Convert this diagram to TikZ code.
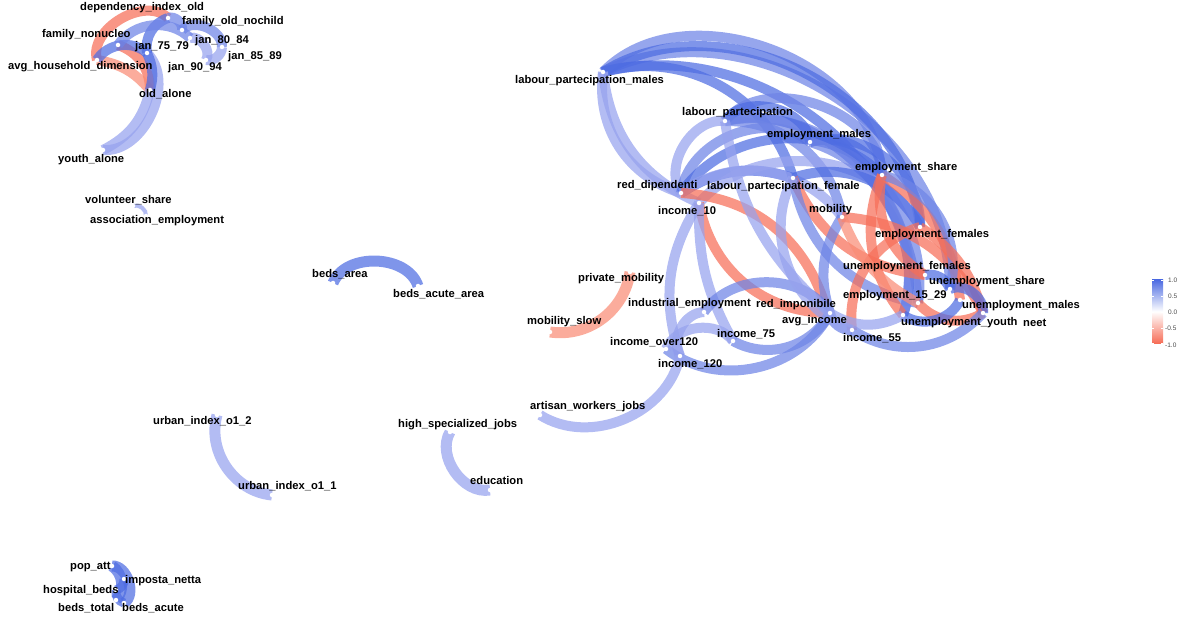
\documentclass[tikz,border=0pt]{standalone}
\usepackage{fontspec}
\setmainfont{Liberation Sans}
\definecolor{cstrong}{RGB}{78,108,226}
\definecolor{cmid}{RGB}{110,132,230}
\definecolor{clight}{RGB}{150,162,238}
\definecolor{cred}{RGB}{246,110,88}
\definecolor{cred2}{RGB}{250,140,118}
\tikzset{
  e/.style={line width=10pt, opacity=0.72},
  es/.style={e, draw=cstrong},
  em/.style={e, draw=cmid},
  el/.style={e, draw=clight},
  er/.style={e, draw=cred},
  er2/.style={e, draw=cred2},
  dot/.style={circle, fill=white, inner sep=0pt, minimum size=4.5pt},
  lab/.style={anchor=west, inner sep=0pt, font=\fontsize{11.2}{13}\selectfont\bfseries, text=black},
  tick/.style={anchor=west, inner sep=0pt, font=\fontsize{6.5}{7}\selectfont, text=black!70}
}
\begin{document}
\begin{tikzpicture}[x=1pt,y=-1pt]
\useasboundingbox (0,0) rectangle (1191,620);
% ---------- coordinates of nodes
\coordinate (dio) at (168,18);
\coordinate (fon) at (182,30);
\coordinate (fnu) at (118,45);
\coordinate (j75) at (147,53);
\coordinate (j80) at (190,38);
\coordinate (j85) at (222,47);
\coordinate (j90) at (206,60);
\coordinate (ahd) at (97,60);
\coordinate (old) at (150,90);
\coordinate (ya) at (103,150);
\coordinate (vs) at (133,206);
\coordinate (ae) at (146,216);
\coordinate (bar) at (333,283);
\coordinate (baa) at (418,286);
\coordinate (pm) at (630,272);
\coordinate (ms) at (550,332);
\coordinate (u2) at (217,415);
\coordinate (u1) at (272,495);
\coordinate (hs) at (450,432);
\coordinate (edu) at (490,490);
\coordinate (pop) at (112,566);
\coordinate (imp) at (124,579);
\coordinate (hb) at (116,590);
\coordinate (bt) at (116,600);
\coordinate (bac) at (124,603);
\coordinate (lpm) at (603,72);
\coordinate (lp) at (725,121);
\coordinate (emm) at (810,142);
\coordinate (emsh) at (882,175);
\coordinate (rdip) at (681,193);
\coordinate (inc10) at (699,203);
\coordinate (lpf) at (793,178);
\coordinate (mob) at (842,217);
\coordinate (emf) at (920,227);
\coordinate (unf) at (925,275);
\coordinate (unsh) at (950,289);
\coordinate (e1529) at (918,303);
\coordinate (unm) at (983,313);
\coordinate (neet) at (960,300);
\coordinate (uny) at (903,315);
\coordinate (avg) at (830,313);
\coordinate (rimp) at (826,308);
\coordinate (inc55) at (852,330);
\coordinate (ind) at (704,312);
\coordinate (inc75) at (733,341);
\coordinate (io120) at (666,349);
\coordinate (i120) at (680,356);
\coordinate (art) at (540,415);

% ---------- edges: top-left cluster
\draw[er] (dio) to[bend right=75] (ahd);
\draw[er] (fnu) to[bend left=35] (old);
\draw[er2] (ahd) to[bend left=20] (old);
\draw[el] (j75) to[bend left=70] (ya);
\draw[el] (old) to[bend left=25] (ya);
\draw[em] (dio) to[bend left=60] (fon);
\draw[em] (fon) to[bend left=70] (j85);
\draw[el] (j80) to[bend left=70] (j90);
\draw[es] (dio) to[bend right=40] (j75);
\draw[es] (ahd) to[bend left=50] (j75);
\draw[em] (fnu) to[bend left=50] (j80);
\draw[es] (j75) to[bend left=20] (old);
\draw[el] (j85) to[bend left=50] (j90);

% ---------- small components
\draw[el, line width=4pt] (vs) to[bend left=60] (ae);
\draw[es, line width=11pt] (bar) to[bend left=70] (baa);
\draw[er2, line width=11pt] (pm) to[bend left=45] (ms);
\draw[el, line width=11pt] (u2) to[bend right=50] (u1);
\draw[el, line width=11pt] (hs) to[bend right=65] (edu);
\draw[es, line width=11pt] (pop) to[bend left=50] (bt);
\draw[es, line width=11pt] (pop) to[bend left=75] (bac);
\draw[es, line width=9pt] (imp) to[bend left=40] (hb);
\draw[es, line width=9pt] (hb) to[bend right=40] (bac);

% ---------- main cluster
\draw[em] (lpm) to[bend left=58] (unsh);
\draw[es] (lpm) to[bend left=50] (e1529);
\draw[em] (lpm) to[bend left=66] (emsh);
\draw[es] (lpm) to[bend left=58] (emf);
\draw[es] (lpm) to[bend left=45] (lpf);
\draw[el] (lpm) to[bend right=40] (rdip);
\draw[el] (lpm) to[bend right=30] (inc10);
\draw[em] (lp) to[bend left=70] (emsh);
\draw[es] (lp) to[bend left=62] (uny);
\draw[em] (lp) to[bend left=55] (e1529);
\draw[es] (lp) to[bend left=70] (emm);
\draw[em] (lp) to[bend left=40] (mob);
\draw[el] (rdip) to[bend left=65] (lp);
\draw[em] (rdip) to[bend left=60] (emm);
\draw[es] (rdip) to[bend left=50] (emsh);
\draw[es] (rdip) to[bend left=25] (lpf);
\draw[el] (inc10) to[bend left=55] (emf);
\draw[el] (rdip) to[bend left=45] (mob);
\draw[er] (inc10) to[bend right=40] (avg);
\draw[er] (rdip) to[bend left=35] (rimp);
\draw[el] (inc10) to[bend right=15] (inc75);
\draw[el] (inc10) to[bend right=25] (i120);
\draw[em] (avg) to[bend right=55] (ind);
\draw[em] (avg) to[bend left=50] (io120);
\draw[em] (avg) to[bend left=45] (inc75);
\draw[el] (i120) to[bend left=60] (ind);
\draw[el] (art) to[bend right=55] (i120);
\draw[el] (io120) to[bend left=60] (inc75);
\draw[es] (emm) to[bend left=40] (emsh);
\draw[es] (emm) to[bend left=55] (emf);
\draw[em] (emm) to[bend left=45] (uny);
\draw[es] (lpf) to[bend left=40] (emf);
\draw[er] (lpf) to[bend right=30] (unf);
\draw[em] (lpf) to[bend right=35] (e1529);
\draw[em] (mob) to[bend right=25] (avg);
\draw[er] (mob) to[bend left=30] (unm);
\draw[er] (emsh) to[bend right=35] (unf);
\draw[er] (emsh) to[bend left=25] (neet);
\draw[em] (emsh) to[bend left=45] (unsh);
\draw[er] (emf) to[bend left=20] (unm);
\draw[er] (emf) to[bend right=40] (inc55);
\draw[es] (unf) to[bend left=40] (unsh);
\draw[es] (unsh) to[bend left=60] (unm);
\draw[er] (e1529) to[bend right=40] (unm);
\draw[er] (uny) to[bend left=30] (emsh);
\draw[es] (uny) to[bend right=50] (neet);
\draw[em] (avg) to[bend right=40] (inc55);
\draw[em] (inc55) to[bend right=40] (unm);
\draw[el] (avg) to[bend right=30] (uny);
\draw[er2] (mob) to[bend right=20] (e1529);
\draw[el] (lpf) to[bend right=50] (inc55);
\draw[el] (lp) to[bend right=20] (avg);

% ---------- dots
\foreach \p in {dio,fon,fnu,j75,j80,j85,j90,ahd,old,ya,vs,ae,bar,baa,pm,ms,u2,u1,hs,edu,pop,imp,hb,bt,bac,lpm,lp,emm,emsh,rdip,inc10,lpf,mob,emf,unf,unsh,e1529,unm,neet,uny,avg,inc55,ind,inc75,io120,i120,art}
  \node[dot] at (\p) {};

% ---------- labels
\node[lab] (l1) at (80,8) {dependency\_index\_old};
\node[lab] (l2) at (182,22) {family\_old\_nochild};
\node[lab] (l3) at (42,35) {family\_nonucleo};
\node[lab] (l4) at (135,47) {jan\_75\_79};
\node[lab] (l5) at (195,41) {jan\_80\_84};
\node[lab] (l6) at (228,57) {jan\_85\_89};
\node[lab] (l7) at (8,67) {avg\_household\_dimension};
\node[lab] (l8) at (168,68) {jan\_90\_94};
\node[lab] (l9) at (139,94) {old\_alone};
\node[lab] (l10) at (58,160) {youth\_alone};
\node[lab] (l11) at (85,200) {volunteer\_share};
\node[lab] (l12) at (90,221) {association\_employment};
\node[lab] (l13) at (312,274) {beds\_area};
\node[lab] (l14) at (393,294) {beds\_acute\_area};
\node[lab] (l15) at (515,81) {labour\_partecipation\_males};
\node[lab] (l16) at (682,113) {labour\_partecipation};
\node[lab] (l17) at (767,135) {employment\_males};
\node[lab] (l18) at (855,168) {employment\_share};
\node[lab] (l19) at (617,186) {red\_dipendenti};
\node[lab] (l20) at (707,187) {labour\_partecipation\_female};
\node[lab] (l21) at (658,211) {income\_10};
\node[lab] (l22) at (809,210) {mobility};
\node[lab] (l23) at (875,235) {employment\_females};
\node[lab] (l24) at (843,267) {unemployment\_females};
\node[lab] (l25) at (578,279) {private\_mobility};
\node[lab] (l26) at (929,282) {unemployment\_share};
\node[lab] (l27) at (843,296) {employment\_15\_29};
\node[lab] (l28) at (628,304) {industrial\_employment};
\node[lab] (l29) at (756,305) {red\_imponibile};
\node[lab] (l30) at (962,306) {unemployment\_males};
\node[lab] (l31) at (782,321) {avg\_income};
\node[lab] (l32) at (901,323) {unemployment\_youth};
\node[lab] (l33) at (1023,323) {neet};
\node[lab] (l34) at (527,322) {mobility\_slow};
\node[lab] (l35) at (717,334) {income\_75};
\node[lab] (l36) at (843,338) {income\_55};
\node[lab] (l37) at (610,342) {income\_over120};
\node[lab] (l38) at (658,364) {income\_120};
\node[lab] (l39) at (530,407) {artisan\_workers\_jobs};
\node[lab] (l40) at (153,421) {urban\_index\_o1\_2};
\node[lab] (l41) at (398,425) {high\_specialized\_jobs};
\node[lab] (l42) at (470,480) {education};
\node[lab] (l43) at (238,486) {urban\_index\_o1\_1};
\node[lab] (l44) at (70,567) {pop\_att};
\node[lab] (l45) at (125,581) {imposta\_netta};
\node[lab] (l46) at (43,591) {hospital\_beds};
\node[lab] (l47) at (58,608) {beds\_total};
\node[lab] (l48) at (122,608) {beds\_acute};

% ---------- colour bar
\shade[top color=cstrong, bottom color=cred, middle color=white] (1152,280) rectangle (1163,343);
\foreach \yy in {280,296,312,328,343}
  \draw[white, line width=0.6pt] (1152,\yy) -- (1154,\yy) (1161,\yy) -- (1163,\yy);
\node[tick] (t1) at (1168,280) {1.0};
\node[tick] (t2) at (1168,296) {0.5};
\node[tick] (t3) at (1168,312) {0.0};
\node[tick] (t4) at (1165,328) {-0.5};
\node[tick] (t5) at (1165,345) {-1.0};
\end{tikzpicture}
\end{document}
